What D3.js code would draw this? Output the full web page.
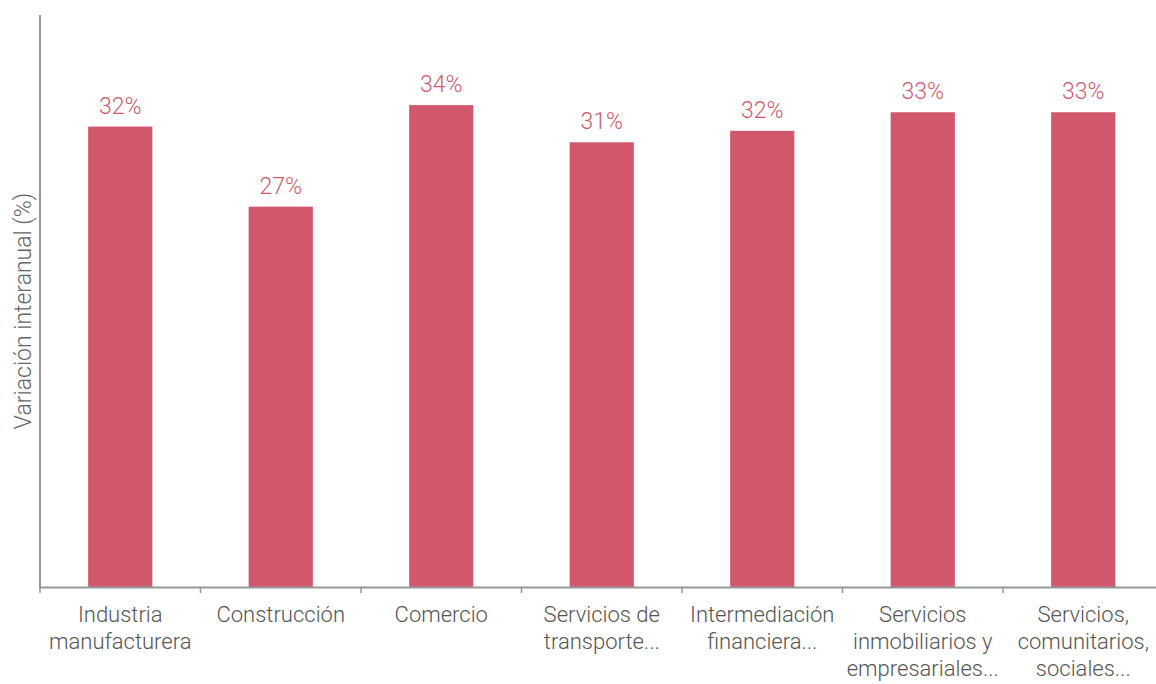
<!DOCTYPE html>
<meta charset="utf-8">
<style>
  body { margin: 0; background: #fff; }
  .cat { font-family: Roboto, sans-serif; font-weight: 300; font-size: 22px; fill: #555; }
  .val { font-family: Roboto, sans-serif; font-weight: 300; font-size: 23px; fill: #d2596b; }
  .ytitle { font-family: Roboto, sans-serif; font-weight: 300; font-size: 23px; fill: #666; }
</style>
<svg class="chart" width="1156" height="684"></svg>
<script src="https://d3js.org/d3.v7.min.js"></script>
<script>
  // sectors and year-on-year variation (%)
  var categories = [
    ["Industria", "manufacturera"],
    ["Construcción"],
    ["Comercio"],
    ["Servicios de", "transporte..."],
    ["Intermediación", "financiera..."],
    ["Servicios", "inmobiliarios y", "empresariales..."],
    ["Servicios,", "comunitarios,", "sociales..."]
  ];
  var values = [32.2, 26.6, 33.7, 31.1, 31.9, 33.2, 33.2];

  var svg = d3.select(".chart"),
      mLeft = 40, mRight = 1163.5, mTop = 15, mBottom = 587;

  var x = d3.scaleBand()
      .domain(d3.range(categories.length))
      .range([mLeft, mRight]);

  var y = d3.scaleLinear()
      .domain([0, 40])
      .range([mBottom, mTop]);

  var barW = x.bandwidth() * 0.4;

  svg.append("g")
      .selectAll("rect")
      .data(values)
      .enter().append("rect")
        .attr("x", function (d, i) { return x(i) + x.bandwidth() / 2 - barW / 2; })
        .attr("y", function (d) { return y(d); })
        .attr("width", barW)
        .attr("height", function (d) { return y(0) - y(d); })
        .attr("fill", "#d2596b");

  svg.append("g")
      .selectAll("text")
      .data(values)
      .enter().append("text")
        .attr("class", "val")
        .attr("x", function (d, i) { return x(i) + x.bandwidth() / 2; })
        .attr("y", function (d) { return y(d) - 13; })
        .attr("text-anchor", "middle")
        .text(function (d) { return Math.round(d) + "%"; });

  // axes
  svg.append("line")
      .attr("x1", mLeft).attr("x2", mLeft)
      .attr("y1", mTop).attr("y2", mBottom + 1)
      .attr("stroke", "#939898").attr("stroke-width", 2);
  svg.append("line")
      .attr("x1", mLeft - 1).attr("x2", 1156)
      .attr("y1", mBottom + 0.5).attr("y2", mBottom + 0.5)
      .attr("stroke", "#939898").attr("stroke-width", 2);

  svg.append("g")
      .selectAll("line")
      .data(d3.range(categories.length))
      .enter().append("line")
        .attr("x1", function (i) { return x(i); })
        .attr("x2", function (i) { return x(i); })
        .attr("y1", mBottom).attr("y2", mBottom + 6)
        .attr("stroke", "#939898").attr("stroke-width", 1.5);

  var cat = svg.append("g")
      .selectAll("text")
      .data(categories)
      .enter().append("text")
        .attr("class", "cat")
        .attr("text-anchor", "middle")
        .attr("transform", function (d, i) {
          return "translate(" + (x(i) + x.bandwidth() / 2) + ",622)";
        });
  cat.selectAll("tspan")
      .data(function (d) { return d; })
      .enter().append("tspan")
        .attr("x", 0)
        .attr("y", function (d, j) { return j * 27; })
        .text(function (d) { return d; });

  svg.append("text")
      .attr("class", "ytitle")
      .attr("text-anchor", "middle")
      .attr("transform", "translate(31,311) rotate(-90)")
      .text("Variación interanual (%)");
</script>
